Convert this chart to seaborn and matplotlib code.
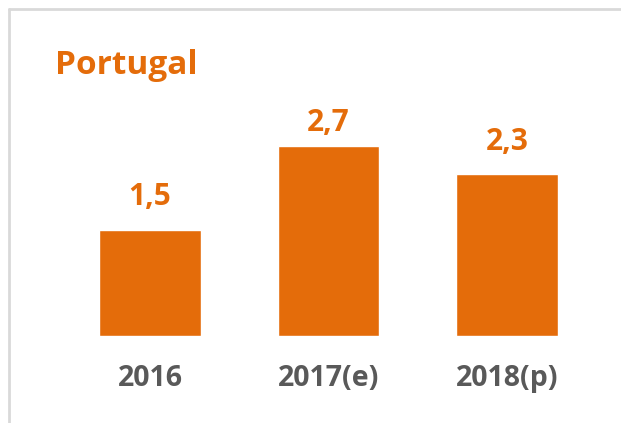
import matplotlib
matplotlib.use("Agg")
import matplotlib.pyplot as plt
import seaborn as sns
import pandas as pd
from matplotlib.lines import Line2D

categories = ["2016", "2017(e)", "2018(p)"]
values = [1.5, 2.7, 2.3]
value_labels = ["1,5", "2,7", "2,3"]
title = "Portugal"

ORANGE = "#E46C0A"
GRAY = "#595959"

sns.set_theme(style="white")
plt.rcParams["font.family"] = ["Open Sans", "DejaVu Sans"]

W, H = 621, 423
fig = plt.figure(figsize=(W / 100, H / 100), dpi=100)
fig.patch.set_facecolor("white")

left = 60.75 / W
bottom = (H - 336) / H
width = 535.5 / W
height = 243 / H
ax = fig.add_axes([left, bottom, width, height])

df = pd.DataFrame({"cat": categories, "val": values})
sns.barplot(data=df, x="cat", y="val", color=ORANGE, saturation=1, width=0.571, ax=ax)

ax.set_xlim(-0.5, 2.5)
ax.set_ylim(0, 3.45)
for s in ax.spines.values():
    s.set_visible(False)
ax.set_yticks([])
ax.set_xlabel("")
ax.set_ylabel("")
ax.tick_params(axis="x", length=0, pad=20, labelsize=20.5, labelcolor=GRAY)
for t in ax.get_xticklabels():
    t.set_fontweight("bold")

# label gap above each bar (points), as placed in the original
label_gaps = [18.5, 11, 17]
for i, (v, lab) in enumerate(zip(values, value_labels)):
    ax.annotate(lab, (i, v), xytext=(0, label_gaps[i]), textcoords="offset points",
                ha="center", va="baseline", fontsize=21.5, fontweight="bold", color=ORANGE)

fig.text(55 / W, 1 - 74 / H, title, ha="left", va="baseline",
         fontsize=24, fontweight="bold", color=ORANGE)

bc = "#D9D9D9"
fig.add_artist(Line2D([8.5 / W, 1], [1 - 9 / H, 1 - 9 / H], color=bc, lw=2, transform=fig.transFigure))
fig.add_artist(Line2D([8.5 / W, 8.5 / W], [0, 1 - 9 / H], color=bc, lw=2, transform=fig.transFigure))

fig.savefig("out.png", dpi=100, facecolor="white")
